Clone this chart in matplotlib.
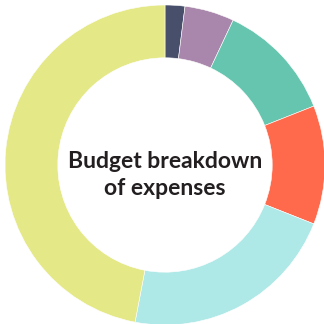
import matplotlib.pyplot as plt

categories = ["A", "B", "C", "D", "E", "F"]
values = [2, 5, 12, 12, 22, 47]
colors = ["#474f6b", "#a986ab", "#66c5ae", "#ff6a4d", "#aee8e7", "#e4e886"]

fig = plt.figure(figsize=(3.24, 3.24), dpi=100)
ax = fig.add_axes([0, 0, 1, 1])

ax.pie(values, colors=colors, startangle=90, counterclock=False,
       wedgeprops=dict(width=0.33, edgecolor="white", linewidth=0.4))

# centre label, sits a touch below the middle like the original
ax.text(0, -0.06, "Budget breakdown\nof expenses", ha="center", va="center",
        fontsize=16.5, fontweight="bold", color="#231f20", family="Lato",
        linespacing=1.35)

ax.set_xlim(-165 / 160, 159 / 160)
ax.set_ylim(-159 / 160, 165 / 160)
ax.set_aspect("equal")
ax.axis("off")

fig.savefig("out.png", dpi=100, facecolor="white")
